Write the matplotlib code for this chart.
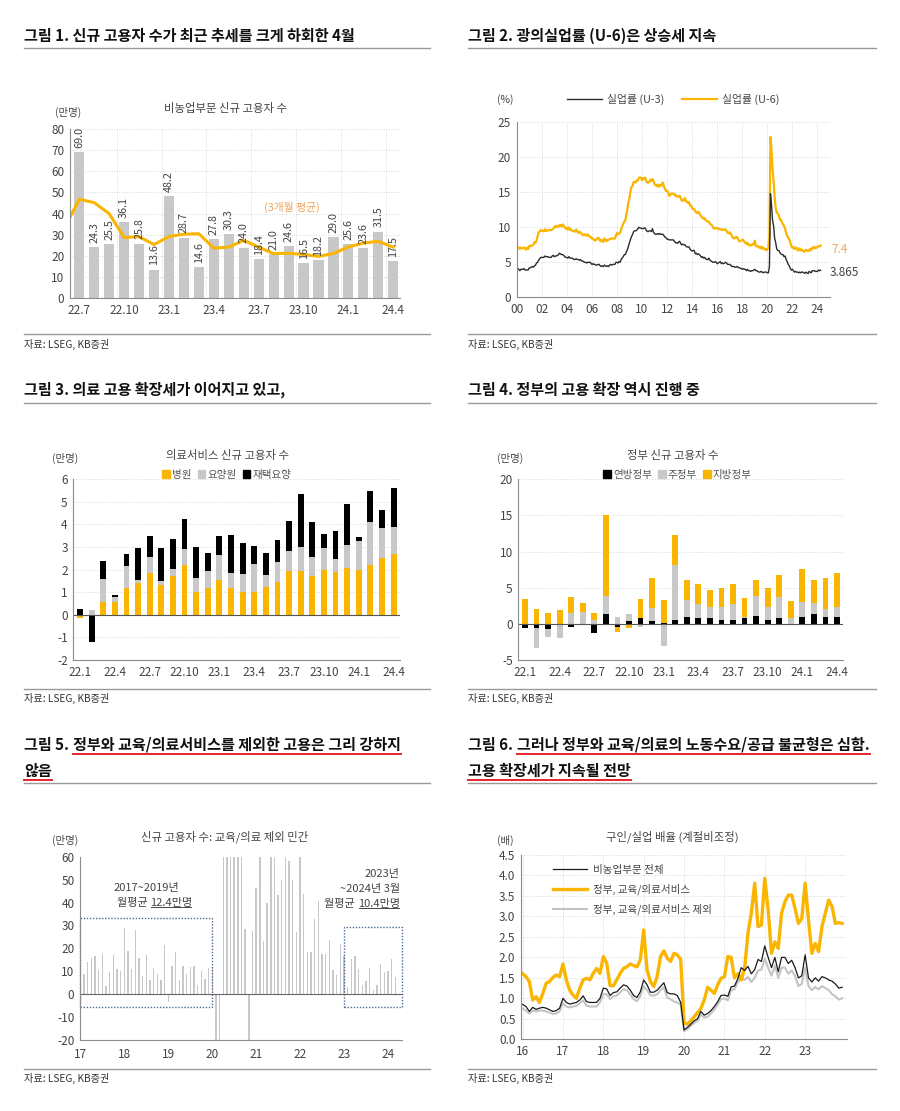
import matplotlib
matplotlib.use("Agg")
import matplotlib.pyplot as plt
import numpy as np
from matplotlib.lines import Line2D
from matplotlib.patches import Patch, Rectangle

plt.rcParams["font.family"] = ["Noto Sans CJK KR", "DejaVu Sans"]
plt.rcParams["axes.unicode_minus"] = False

W, H = 900, 1111
YELLOW = "#F9B500"
ORANGE = "#F2A35E"
BAR_GRAY = "#C8C8C8"
LINE_GRAY = "#C4C4C4"
DARK = "#1E1E1E"
TXT = "#444444"
GRID = "#D9D9D9"
SPINE = "#8C8C8C"
RED = "#E3262C"

# ---- 그림 1: 비농업부문 신규 고용자 수 (만명)
P1_LABELS = ["22.7", "22.10", "23.1", "23.4", "23.7", "23.10", "24.1", "24.4"]
P1_BARS = [69.0, 24.3, 25.5, 36.1, 25.8, 13.6, 48.2, 28.7, 14.6, 27.8, 30.3,
           24.0, 18.4, 21.0, 24.6, 16.5, 18.2, 29.0, 25.6, 23.6, 31.5, 17.5]
# 3개월 평균, 22.6 부터
P1_AVG = [33.0, 46.8, 45.2, 40.0, 28.7, 29.1, 25.4, 29.2, 30.3, 30.5, 23.7, 24.2,
          27.4, 24.2, 21.1, 21.3, 20.7, 19.8, 21.2, 24.3, 26.1, 26.9, 24.2]

# ---- 그림 2: 실업률 U-3 / U-6 (월간, 2000.1 ~ 2024.4)
U3 = [4.0, 4.1, 4.0, 3.8, 4.0, 4.0, 4.0, 4.1, 3.9, 3.9, 3.9, 3.9,
      4.2, 4.2, 4.3, 4.4, 4.3, 4.5, 4.6, 4.9, 5.0, 5.3, 5.5, 5.7,
      5.7, 5.7, 5.7, 5.9, 5.8, 5.8, 5.8, 5.7, 5.7, 5.7, 5.9, 6.0,
      5.8, 5.9, 5.9, 6.0, 6.1, 6.3, 6.2, 6.1, 6.1, 6.0, 5.8, 5.7,
      5.7, 5.6, 5.8, 5.6, 5.6, 5.6, 5.5, 5.4, 5.4, 5.5, 5.4, 5.4,
      5.3, 5.4, 5.2, 5.2, 5.1, 5.0, 5.0, 4.9, 5.0, 5.0, 5.0, 4.9,
      4.7, 4.8, 4.7, 4.7, 4.6, 4.6, 4.7, 4.7, 4.5, 4.4, 4.5, 4.4,
      4.6, 4.5, 4.4, 4.5, 4.4, 4.6, 4.7, 4.6, 4.7, 4.7, 4.7, 5.0,
      5.0, 4.9, 5.1, 5.0, 5.4, 5.6, 5.8, 6.1, 6.1, 6.5, 6.8, 7.3,
      7.8, 8.3, 8.7, 9.0, 9.4, 9.5, 9.5, 9.6, 9.8, 10.0, 9.9, 9.9,
      9.8, 9.8, 9.9, 9.9, 9.6, 9.4, 9.4, 9.5, 9.5, 9.4, 9.8, 9.3,
      9.1, 9.0, 9.0, 9.1, 9.0, 9.1, 9.0, 9.0, 9.0, 8.8, 8.6, 8.5,
      8.3, 8.3, 8.2, 8.2, 8.2, 8.2, 8.2, 8.0, 7.8, 7.8, 7.7, 7.9,
      8.0, 7.7, 7.5, 7.6, 7.5, 7.5, 7.3, 7.2, 7.2, 7.2, 6.9, 6.7,
      6.6, 6.7, 6.7, 6.2, 6.3, 6.1, 6.2, 6.1, 5.9, 5.7, 5.8, 5.6,
      5.7, 5.5, 5.4, 5.4, 5.6, 5.3, 5.2, 5.1, 5.0, 5.0, 5.1, 5.0,
      4.8, 4.9, 5.0, 5.1, 4.8, 4.9, 4.8, 4.9, 5.0, 4.9, 4.7, 4.7,
      4.7, 4.6, 4.4, 4.4, 4.4, 4.3, 4.3, 4.4, 4.3, 4.2, 4.2, 4.1,
      4.0, 4.1, 4.0, 4.0, 3.8, 4.0, 3.8, 3.8, 3.7, 3.8, 3.8, 3.9,
      4.0, 3.8, 3.8, 3.7, 3.6, 3.6, 3.7, 3.6, 3.5, 3.6, 3.6, 3.6,
      3.5, 3.5, 4.4, 14.8, 13.2, 11.0, 10.2, 8.4, 7.8, 6.9, 6.7, 6.7,
      6.4, 6.2, 6.1, 6.1, 5.8, 5.9, 5.4, 5.1, 4.7, 4.5, 4.1, 3.9,
      4.0, 3.8, 3.6, 3.7, 3.6, 3.6, 3.5, 3.6, 3.5, 3.6, 3.6, 3.5,
      3.4, 3.6, 3.5, 3.4, 3.7, 3.6, 3.5, 3.8, 3.8, 3.8, 3.7, 3.7,
      3.7, 3.9, 3.8, 3.865]
U6 = [7.1, 7.2, 7.1, 6.9, 7.1, 7.0, 7.0, 7.1, 7.0, 6.8, 7.1, 6.9,
      7.3, 7.4, 7.3, 7.4, 7.5, 7.9, 7.8, 8.1, 8.7, 9.3, 9.4, 9.6,
      9.5, 9.5, 9.4, 9.7, 9.5, 9.5, 9.6, 9.6, 9.6, 9.6, 9.7, 9.8,
      10.0, 10.2, 10.0, 10.2, 10.1, 10.3, 10.3, 10.1, 10.4, 10.2, 10.0, 9.8,
      9.9, 9.7, 10.0, 9.6, 9.7, 9.5, 9.5, 9.4, 9.4, 9.7, 9.4, 9.2,
      9.3, 9.3, 9.1, 8.9, 8.9, 9.0, 8.8, 8.9, 9.0, 8.7, 8.7, 8.6,
      8.4, 8.4, 8.2, 8.1, 8.2, 8.4, 8.5, 8.4, 8.0, 8.2, 8.1, 7.9,
      8.4, 8.2, 8.0, 8.2, 8.2, 8.3, 8.4, 8.4, 8.4, 8.4, 8.4, 8.8,
      9.2, 9.0, 9.1, 9.2, 9.7, 10.1, 10.5, 10.8, 11.0, 11.8, 12.6, 13.6,
      14.2, 15.2, 15.8, 15.9, 16.5, 16.5, 16.4, 16.7, 16.7, 17.1, 17.1, 17.1,
      16.7, 17.0, 17.0, 17.1, 16.6, 16.4, 16.4, 16.5, 16.8, 16.6, 16.9, 16.6,
      16.2, 16.0, 15.9, 16.1, 15.8, 16.1, 15.9, 16.1, 16.4, 15.8, 15.5, 15.2,
      15.2, 15.0, 14.5, 14.6, 14.8, 14.8, 14.8, 14.6, 14.7, 14.4, 14.4, 14.4,
      14.5, 14.2, 13.8, 13.9, 13.8, 14.2, 13.8, 13.6, 13.5, 13.6, 13.1, 13.1,
      12.7, 12.6, 12.6, 12.3, 12.1, 12.0, 12.2, 12.0, 11.7, 11.5, 11.4, 11.2,
      11.3, 11.0, 10.9, 10.8, 10.8, 10.5, 10.4, 10.3, 10.0, 9.8, 9.9, 9.9,
      9.9, 9.7, 9.8, 9.7, 9.7, 9.6, 9.7, 9.6, 9.7, 9.5, 9.2, 9.1,
      9.3, 9.1, 8.8, 8.5, 8.4, 8.5, 8.6, 8.6, 8.3, 8.0, 8.0, 8.1,
      8.2, 8.2, 7.9, 7.8, 7.6, 7.8, 7.5, 7.4, 7.5, 7.4, 7.6, 7.6,
      8.1, 7.3, 7.3, 7.3, 7.1, 7.2, 7.0, 7.2, 6.9, 7.0, 6.9, 6.7,
      6.9, 7.0, 8.7, 22.9, 21.1, 18.3, 16.5, 14.2, 12.8, 12.1, 12.0, 11.7,
      11.1, 11.1, 10.7, 10.4, 10.2, 9.8, 9.2, 8.8, 8.5, 8.3, 7.8, 7.3,
      7.1, 7.2, 6.9, 7.0, 7.1, 6.7, 6.7, 7.0, 6.7, 6.8, 6.7, 6.5,
      6.6, 6.8, 6.7, 6.6, 6.7, 6.9, 6.7, 7.1, 7.0, 7.2, 7.0, 7.1,
      7.2, 7.3, 7.3, 7.4]
P2_TICKS = ["00", "02", "04", "06", "08", "10", "12", "14", "16", "18", "20", "22", "24"]

# ---- 그림 3: 의료서비스 신규 고용자 수 (22.1 ~ 24.4, 만명)
P34_LABELS = ["22.1", "22.4", "22.7", "22.10", "23.1", "23.4", "23.7", "23.10", "24.1", "24.4"]
HOSPITAL = [-0.15, 0.0, 0.55, 0.55, 1.2, 1.4, 1.85, 1.33, 1.72, 2.2, 1.03, 1.2, 1.53, 1.2,
            1.02, 1.0, 1.25, 1.45, 1.92, 1.95, 1.7, 1.97, 1.9, 2.08, 1.97, 2.2, 2.5, 2.7]
NURSING = [0.0, 0.2, 1.05, 0.25, 0.95, 0.12, 0.7, 0.15, 0.33, 0.7, 0.59, 0.73, 1.12, 0.67,
           0.8, 1.23, 0.53, 0.9, 0.9, 1.05, 0.85, 1.01, 0.57, 1.0, 1.3, 1.92, 1.35, 1.17]
HOME_CARE = [0.25, -1.2, 0.8, 0.07, 0.53, 1.43, 0.92, 1.47, 1.3, 1.35, 1.38, 0.82, 0.82, 1.66,
             1.36, 0.82, 0.97, 0.98, 1.33, 2.35, 1.58, 0.59, 1.26, 1.84, 0.16, 1.36, 0.8, 1.76]

# ---- 그림 4: 정부 신규 고용자 수 (만명)
FEDERAL = [-0.6, -0.6, -0.7, -0.15, -0.4, -0.05, -1.3, 1.3, -0.5, 0.4, 0.8, 0.35, 0.1, 0.6,
           1.0, 0.8, 0.8, 0.6, 0.6, 0.8, 1.1, 0.6, 0.8, -0.1, 0.9, 1.3, 1.0, 0.9]
STATE = [0.0, -2.7, -1.1, -1.85, 1.5, 1.6, 0.6, 2.5, 1.0, 0.9, -0.5, 1.85, -3.0, 7.5,
         2.3, 2.0, 1.5, 1.7, 2.1, 0.1, 2.8, 1.7, 2.9, 0.8, 2.1, 1.6, 1.0, 1.4]
LOCAL = [3.5, 2.1, 1.5, 1.9, 2.2, 1.3, 0.9, 11.2, -0.6, -0.6, 2.7, 4.1, 3.2, 4.2,
         2.8, 2.7, 2.4, 2.6, 2.8, 2.7, 2.1, 2.7, 3.0, 2.3, 4.6, 3.1, 4.3, 4.8]

# ---- 그림 5: 신규 고용자 수: 교육/의료 제외 민간 (2017.1 ~ 2024.3, 만명)
PRIVATE_EX = [13.5, 9.0, 14.0, 16.0, 16.8, 10.5, 17.6, 3.5, 9.8, 17.0, 11.0, 10.3,
              28.8, 19.0, 11.0, 27.8, 15.7, 7.8, 17.2, 6.0, 11.5, 8.8, 6.0, 21.5,
              -3.5, 12.3, 18.5, 6.0, 12.3, 8.8, 11.8, 12.3, 4.0, 10.3, 6.5, 11.5,
              12.0, -90.0, -1500.0, 300.0, 420.0, 150.0, 110.0, 70.0, 65.0, 28.5, -30.0, 27.5,
              46.5, 65.0, 23.0, 40.0, 70.0, 65.0, 43.5, 50.0, 75.0, 58.0, 50.0, 27.0,
              62.0, 43.8, 18.5, 18.5, 33.0, 40.5, 17.5, 17.5, 23.5, 10.5, 8.5, 22.0,
              16.5, 3.0, 15.5, 16.5, 11.0, 4.0, 5.8, 11.5, 2.0, 4.2, 13.0, 9.8,
              10.3, 15.5, 7.5]
P5_TICKS = ["17", "18", "19", "20", "21", "22", "23", "24"]
BOX_PERIODS = [(2017.0, 2020.0, 33.2), (2023.0, 2024.31, 29.3)]

# ---- 그림 6: 구인/실업 배율 (2016.1 ~ 2023.12)
RATIO_TOTAL = [0.85, 0.8, 0.68, 0.78, 0.73, 0.76, 0.78, 0.76, 0.72, 0.68, 0.7, 0.76,
               1.0, 0.9, 0.86, 0.88, 0.9, 0.96, 1.06, 0.92, 0.9, 0.9, 0.9, 1.0,
               1.25, 1.23, 1.07, 1.14, 1.16, 1.25, 1.33, 1.3, 1.2, 1.07, 1.02, 1.16,
               1.45, 1.33, 1.15, 1.15, 1.2, 1.29, 1.38, 1.14, 1.11, 1.11, 1.07, 0.9,
               0.23, 0.29, 0.37, 0.45, 0.5, 0.68, 0.59, 0.63, 0.7, 0.8, 0.92, 1.07,
               1.08, 1.05, 1.28, 1.3, 1.48, 1.75, 1.68, 1.78, 1.6, 1.7, 1.95, 1.9,
               2.28, 2.0, 1.75, 2.0, 1.65, 2.0, 2.0, 1.85, 1.93, 1.75, 1.5, 1.55,
               2.06, 1.5, 1.4, 1.5, 1.42, 1.53, 1.5, 1.45, 1.42, 1.35, 1.25, 1.27]
RATIO_GOV = [1.6, 1.53, 1.41, 0.96, 1.04, 0.9, 1.12, 1.37, 1.41, 1.51, 1.57, 1.53,
             1.84, 1.45, 1.2, 1.08, 1.0, 1.25, 1.45, 1.49, 1.45, 1.61, 1.73, 1.61,
             2.02, 1.86, 1.31, 1.31, 1.45, 1.61, 1.73, 1.77, 1.84, 1.8, 1.77, 1.94,
             2.67, 1.69, 1.41, 1.29, 1.53, 2.02, 2.16, 1.98, 1.9, 2.1, 2.06, 1.95,
             0.4, 0.37, 0.45, 0.55, 0.65, 0.75, 0.96, 1.27, 1.2, 1.12, 1.33, 1.49,
             1.53, 2.02, 2.0, 1.5, 1.6, 1.45, 1.73, 2.59, 3.08, 3.81, 2.75, 2.79,
             3.93, 3.16, 2.1, 2.38, 2.22, 3.08, 3.36, 3.52, 3.52, 3.2, 2.83, 2.95,
             3.81, 2.91, 2.1, 2.34, 2.14, 2.75, 3.08, 3.4, 3.24, 2.83, 2.85, 2.83]
RATIO_EX = [0.75, 0.7, 0.63, 0.7, 0.68, 0.7, 0.7, 0.68, 0.65, 0.62, 0.63, 0.68,
            0.88, 0.8, 0.78, 0.8, 0.82, 0.88, 0.95, 0.82, 0.8, 0.8, 0.8, 0.9,
            1.1, 1.1, 0.98, 1.05, 1.07, 1.15, 1.22, 1.2, 1.1, 0.98, 0.93, 1.05,
            1.3, 1.2, 1.07, 1.07, 1.1, 1.2, 1.27, 1.02, 0.98, 0.92, 0.9, 0.85,
            0.2, 0.25, 0.33, 0.4, 0.45, 0.6, 0.53, 0.55, 0.63, 0.72, 0.85, 0.98,
            1.0, 0.95, 1.2, 1.22, 1.4, 1.5, 1.45, 1.52, 1.4, 1.5, 1.68, 1.7,
            1.97, 1.75, 1.55, 1.8, 1.5, 1.75, 1.75, 1.6, 1.68, 1.55, 1.3, 1.35,
            1.75, 1.3, 1.2, 1.28, 1.22, 1.3, 1.25, 1.2, 1.1, 1.05, 0.97, 1.0]
P6_TICKS = ["16", "17", "18", "19", "20", "21", "22", "23"]


def px_axes(fig, left, top, right, bottom):
    return fig.add_axes([left / W, 1 - bottom / H, (right - left) / W, (bottom - top) / H])


def ftext(fig, x, y, s, **kw):
    return fig.text(x / W, 1 - y / H, s, **kw)


def fline(fig, x0, x1, y, color, lw):
    fig.add_artist(Line2D([x0 / W, x1 / W], [1 - y / H, 1 - y / H],
                          color=color, lw=lw, transform=fig.transFigure))


def style_axes(ax, ygrid=True):
    for side in ("top", "right"):
        ax.spines[side].set_visible(False)
    for side in ("left", "bottom"):
        ax.spines[side].set_color(SPINE)
        ax.spines[side].set_linewidth(0.8)
    ax.tick_params(axis="both", labelsize=8.5, colors=TXT, length=0, pad=4)
    if ygrid:
        ax.grid(axis="y", color=GRID, lw=0.7, ls=(0, (1, 1.5)))
    ax.set_axisbelow(True)


def stacked(ax, x, series, colors, width):
    pos = np.zeros(len(x))
    neg = np.zeros(len(x))
    for vals, color in zip(series, colors):
        vals = np.asarray(vals, dtype=float)
        bottom = np.where(vals >= 0, pos, neg)
        ax.bar(x, vals, width=width, bottom=bottom, color=color, lw=0)
        pos = np.where(vals >= 0, pos + vals, pos)
        neg = np.where(vals < 0, neg + vals, neg)


def panel_header(fig, x, y_top, title, unit, ux):
    ftext(fig, x, y_top, title, ha="center", va="center", fontsize=8.2, color=TXT)
    ftext(fig, ux, y_top + 3, unit, ha="center", va="center", fontsize=7.5, color=TXT)


def plot_new_jobs(fig):
    ax = px_axes(fig, 70, 129, 400, 298.3)
    style_axes(ax)
    x = np.arange(len(P1_BARS))
    ax.bar(x, P1_BARS, width=0.68, color=BAR_GRAY, lw=0)
    for xi, v in zip(x, P1_BARS):
        ax.text(xi, v + 2.0, f"{v:.1f}", rotation=90, ha="center", va="bottom",
                fontsize=7.8, color=TXT)
    ax.plot(np.arange(len(P1_AVG)) - 1, P1_AVG, color=YELLOW, lw=2.2)
    ax.text(14.2, 43, "(3개월 평균)", color=ORANGE, fontsize=7.8, ha="center", va="center")
    ax.set_xlim(-0.62, 21.45)
    ax.set_ylim(0, 80)
    ax.set_yticks(np.arange(0, 81, 10))
    ax.set_xticks(np.arange(0, 22, 3))
    ax.set_xticklabels(P1_LABELS)
    ax.set_xticks(np.arange(2.5, 21, 3), minor=True)
    ax.tick_params(axis="x", which="minor", length=0)
    ax.grid(axis="x", which="minor", color=GRID, lw=0.7, ls=(0, (1, 1.5)))
    panel_header(fig, 226, 109, "비농업부문 신규 고용자 수", "(만명)", 68)


def plot_unemployment(fig):
    ax = px_axes(fig, 516.7, 122.3, 830, 297.3)
    style_axes(ax)
    x = 2000 + np.arange(len(U3)) / 12
    ax.plot(x, U6, color=YELLOW, lw=1.6, label="실업률 (U-6)")
    ax.plot(x, U3, color="#2B2B2B", lw=1.0, label="실업률 (U-3)")
    ax.set_xlim(2000, 2025.0)
    ax.set_ylim(0, 25)
    ax.set_yticks(np.arange(0, 26, 5))
    ax.set_xticks(np.arange(2000, 2025, 2))
    ax.set_xticklabels(P2_TICKS)
    ax.grid(axis="x", color=GRID, lw=0.7, ls=(0, (1, 1.5)))
    ax.text(x[-1] + 0.9, U6[-1] - 0.6, f"{U6[-1]:.1f}", color=ORANGE, fontsize=8.5,
            ha="left", va="center")
    ax.text(x[-1] + 0.7, U3[-1] - 0.3, f"{U3[-1]:.3f}", color=TXT, fontsize=8.5,
            ha="left", va="center", clip_on=False)
    handles = [Line2D([], [], color="#2B2B2B", lw=1.0), Line2D([], [], color=YELLOW, lw=1.6)]
    ax.legend(handles, ["실업률 (U-3)", "실업률 (U-6)"], ncol=2, loc="center",
              bbox_to_anchor=(0.5, 1.13), frameon=False, fontsize=7.8,
              handlelength=3.2, columnspacing=1.6, handletextpad=0.5,
              labelcolor=TXT)
    ftext(fig, 505, 100, "(%)", ha="center", va="center", fontsize=7.5, color=TXT)


def square_legend(ax, labels, colors, x):
    handles = [Patch(color=c) for c in colors]
    ax.legend(handles, labels, ncol=3, loc="center", bbox_to_anchor=(x, 1.025),
              frameon=False, fontsize=7.6, handlelength=0.7, handleheight=0.7,
              handletextpad=0.2, columnspacing=0.6, labelcolor="#555555",
              borderaxespad=0)


def bar_month_axis(ax, n):
    ax.set_xlim(-0.58, n - 0.45)
    ax.set_xticks(np.arange(0, n, 3))
    ax.set_xticklabels(P34_LABELS)
    ax.axhline(0, color="#555555", lw=0.8, zorder=1)


def plot_medical(fig):
    ax = px_axes(fig, 73.3, 479.3, 400, 660)
    style_axes(ax)
    x = np.arange(len(HOSPITAL))
    stacked(ax, x, [HOSPITAL, NURSING, HOME_CARE], [YELLOW, BAR_GRAY, "#000000"], 0.5)
    bar_month_axis(ax, len(x))
    ax.set_ylim(-2, 6)
    ax.set_yticks(np.arange(-2, 7, 1))
    square_legend(ax, ["병원", "요양원", "재택요양"], [YELLOW, BAR_GRAY, "#000000"], 0.47)
    panel_header(fig, 227, 455, "의료서비스 신규 고용자 수", "(만명)", 65)


def plot_government(fig):
    ax = px_axes(fig, 518.3, 479.3, 843.3, 660)
    style_axes(ax)
    x = np.arange(len(FEDERAL))
    stacked(ax, x, [FEDERAL, STATE, LOCAL], ["#000000", BAR_GRAY, YELLOW], 0.5)
    bar_month_axis(ax, len(x))
    ax.set_ylim(-5, 20)
    ax.set_yticks(np.arange(-5, 21, 5))
    square_legend(ax, ["연방정부", "주정부", "지방정부"], ["#000000", BAR_GRAY, YELLOW], 0.49)
    panel_header(fig, 673, 455, "정부 신규 고용자 수", "(만명)", 510)


def underlined_text(renderer, ax, x, y, prefix, marked, align="left", **kw):
    # prefix + underlined part, laid out left-to-right from x (or ending at x)
    inv = ax.transData.inverted()
    if align == "left":
        t0 = ax.text(x, y, prefix, ha="left", **kw)
        bb = t0.get_window_extent(renderer)
        t1 = ax.text(inv.transform((bb.x1, bb.y0))[0], y, marked, ha="left", **kw)
    else:
        t1 = ax.text(x, y, marked, ha="right", **kw)
        bb = t1.get_window_extent(renderer)
        ax.text(inv.transform((bb.x0, bb.y0))[0], y, prefix, ha="right", **kw)
    bb1 = t1.get_window_extent(renderer)
    (ux0, uy), (ux1, _) = inv.transform([(bb1.x0 + 1, bb1.y0 + 1), (bb1.x1 - 1, bb1.y0 + 1)])
    ax.plot([ux0, ux1], [uy, uy], color=TXT, lw=0.7, clip_on=False)


def plot_private(fig, renderer):
    ax = px_axes(fig, 80, 856.7, 402, 1040)
    style_axes(ax, ygrid=False)
    x = 2017 + np.arange(len(PRIVATE_EX)) / 12
    ax.bar(x, PRIVATE_EX, width=0.032, color=BAR_GRAY, lw=0)
    ax.set_xlim(2016.99, 2024.32)
    ax.set_ylim(-20, 60)
    ax.set_yticks(np.arange(-20, 61, 10))
    ax.set_xticks(np.arange(2017, 2025))
    ax.set_xticklabels(P5_TICKS)
    ax.axhline(0, color="#666666", lw=0.8)
    ax.tick_params(axis="x", pad=6)
    for x0, x1, top in BOX_PERIODS:
        ax.add_patch(Rectangle((x0, -5.8), x1 - x0, top + 5.8, fill=False,
                               ec="#4F6D8F", lw=1.0, ls=(0, (1, 1.2)), clip_on=False))
    kw = dict(fontsize=8, color=TXT, va="center")
    ax.text(2018.5, 46.5, "2017~2019년", ha="center", **kw)
    underlined_text(renderer, ax, 2017.83, 40, "월평균 ", "12.4만명", **kw)
    ax.text(2024.27, 52.5, "2023년", ha="right", **kw)
    ax.text(2024.27, 46, "~2024년 3월", ha="right", **kw)
    underlined_text(renderer, ax, 2024.27, 39.5, "월평균 ", "10.4만명", align="right", **kw)
    panel_header(fig, 225, 837, "신규 고용자 수: 교육/의료 제외 민간", "(만명)", 65)


def plot_ratio(fig):
    ax = px_axes(fig, 521, 855, 846.7, 1039.3)
    style_axes(ax)
    x = 2016 + np.arange(len(RATIO_TOTAL)) / 12
    ax.plot(x, RATIO_EX, color=LINE_GRAY, lw=1.5, label="정부, 교육/의료서비스 제외")
    ax.plot(x, RATIO_GOV, color=YELLOW, lw=2.4, label="정부, 교육/의료서비스")
    ax.plot(x, RATIO_TOTAL, color="#1A1A1A", lw=0.9, label="비농업부문 전체")
    ax.set_xlim(2015.96, 2024.03)
    ax.set_ylim(0, 4.5)
    ax.set_yticks(np.arange(0, 4.51, 0.5))
    ax.set_yticklabels([f"{v:.1f}" for v in np.arange(0, 4.51, 0.5)])
    ax.set_xticks(np.arange(2016, 2024))
    ax.set_xticklabels(P6_TICKS)
    ax.grid(axis="x", color=GRID, lw=0.7, ls=(0, (1, 1.5)))
    handles, labels = ax.get_legend_handles_labels()
    ax.legend(handles[::-1], labels[::-1], loc="upper left", bbox_to_anchor=(0.07, 1.0),
              frameon=False, fontsize=7.6, handlelength=3.2, labelspacing=0.85,
              handletextpad=0.6, labelcolor=TXT)
    panel_header(fig, 672, 837, "구인/실업 배율 (계절비조정)", "(배)", 505)


def fig_title(fig, renderer, x, y, prefix, rest=None, line2=None):
    kw = dict(fontsize=10.9, fontweight="bold", color="#111111", va="center", ha="left")
    t = ftext(fig, x, y, prefix, **kw)
    if rest is None:
        return
    bb = t.get_window_extent(renderer)
    t1 = fig.text((bb.x1 + 4) / W, 1 - y / H, rest, **kw)
    b1 = t1.get_window_extent(renderer)
    fline(fig, b1.x0, b1.x1, H - b1.y0 + 1, RED, 1.4)
    t2 = ftext(fig, x, y + 26, line2, **kw)
    b2 = t2.get_window_extent(renderer)
    fline(fig, b2.x0, b2.x1, H - b2.y0 + 1, RED, 1.4)


def main():
    fig = plt.figure(figsize=(W / 100, H / 100), dpi=100)
    fig.patch.set_facecolor("white")
    renderer = fig.canvas.get_renderer()

    fig_title(fig, renderer, 24, 36, "그림 1. 신규 고용자 수가 최근 추세를 크게 하회한 4월")
    fig_title(fig, renderer, 468, 36, "그림 2. 광의실업률 (U-6)은 상승세 지속")
    fig_title(fig, renderer, 24, 390, "그림 3. 의료 고용 확장세가 이어지고 있고,")
    fig_title(fig, renderer, 468, 390, "그림 4. 정부의 고용 확장 역시 진행 중")
    fig_title(fig, renderer, 24, 745, "그림 5.", "정부와 교육/의료서비스를 제외한 고용은 그리 강하지", "않음")
    fig_title(fig, renderer, 468, 745, "그림 6.", "그러나 정부와 교육/의료의 노동수요/공급 불균형은 심함.", "고용 확장세가 지속될 전망")

    for y in (48, 403, 783):
        fline(fig, 24, 430, y, "#9A9A9A", 1.0)
        fline(fig, 468, 876, y, "#9A9A9A", 1.0)
    for y_line, y_txt in ((334, 344), (689, 698), (1069, 1078)):
        fline(fig, 24, 430, y_line, "#9A9A9A", 1.0)
        fline(fig, 468, 876, y_line, "#9A9A9A", 1.0)
        ftext(fig, 24, y_txt, "자료: LSEG, KB증권", fontsize=7.3, color="#333333", va="center")
        ftext(fig, 468, y_txt, "자료: LSEG, KB증권", fontsize=7.3, color="#333333", va="center")

    plot_new_jobs(fig)
    plot_unemployment(fig)
    plot_medical(fig)
    plot_government(fig)
    plot_private(fig, renderer)
    plot_ratio(fig)

    fig.savefig("out.png", dpi=100)
    plt.close(fig)


if __name__ == "__main__":
    main()
